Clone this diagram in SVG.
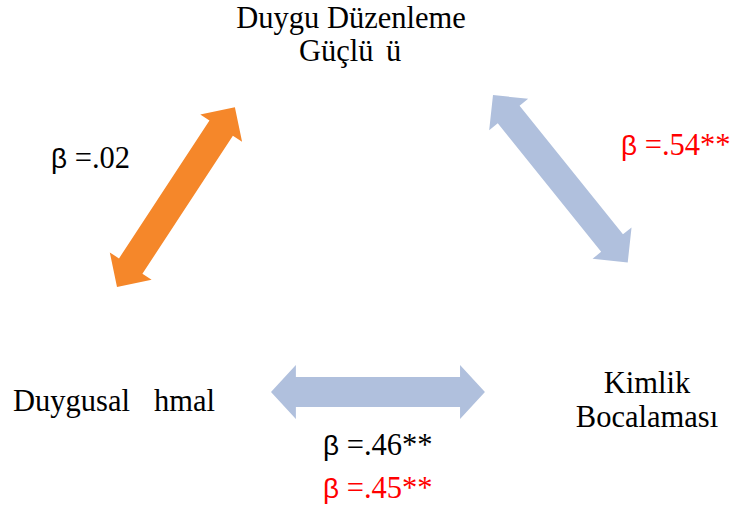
<svg xmlns="http://www.w3.org/2000/svg" xmlns:xlink="http://www.w3.org/1999/xlink" width="734" height="511" viewBox="0 0 734 511">
  <style>
    .lbl { font-family: "Liberation Serif", "Times New Roman", serif; font-size: 30.5px; fill: #000; }
    .num { font-family: "Liberation Serif", "Times New Roman", serif; font-size: 30.5px; }
    .beta { font-family: "Liberation Sans", Arial, sans-serif; font-size: 28px; }
    .blk { fill: #000; }
    .red { fill: #ff0000; }
    .orange { fill: #f5872a; }
    .blue { fill: #b0c0dd; }
  </style>
  <defs>
    <!-- double-headed block arrow laid along the x axis, length 215 -->
    <path id="dbl" d="M0,0 L25,-25 L25,-14 L190,-14 L190,-25 L215,0 L190,25 L190,14 L25,14 L25,25 Z"/>
  </defs>

  <g id="connectors">
    <use xlink:href="#dbl" class="orange" transform="translate(117,287) rotate(-56.75)"/>
    <use xlink:href="#dbl" class="blue" transform="translate(493,95) rotate(51.2)"/>
    <use xlink:href="#dbl" class="blue" transform="translate(271,392) scale(0.995,1.08)"/>
  </g>

  <g id="node-duygu-duzenleme">
    <text class="lbl" x="351" y="28" text-anchor="middle">Duygu Düzenleme</text>
    <text class="lbl" y="61"><tspan x="299">Güçlü</tspan><tspan x="386">ü</tspan></text>
  </g>

  <g id="node-duygusal-ihmal">
    <text class="lbl" y="411"><tspan x="13">Duygusal</tspan><tspan x="154">hmal</tspan></text>
  </g>

  <g id="node-kimlik-bocalamasi">
    <text class="lbl" x="647" y="393" text-anchor="middle">Kimlik</text>
    <text class="lbl" x="647" y="427" text-anchor="middle">Bocalaması</text>
  </g>

  <g id="coef-labels">
    <text class="blk" y="168"><tspan class="beta" x="51">β</tspan><tspan class="num"> =.02</tspan></text>
    <text class="red" y="155"><tspan class="beta" x="621">β</tspan><tspan class="num"> =.54**</tspan></text>
    <text class="blk" y="455"><tspan class="beta" x="323">β</tspan><tspan class="num"> =.46**</tspan></text>
    <text class="red" y="498"><tspan class="beta" x="323">β</tspan><tspan class="num"> =.45**</tspan></text>
  </g>
</svg>
